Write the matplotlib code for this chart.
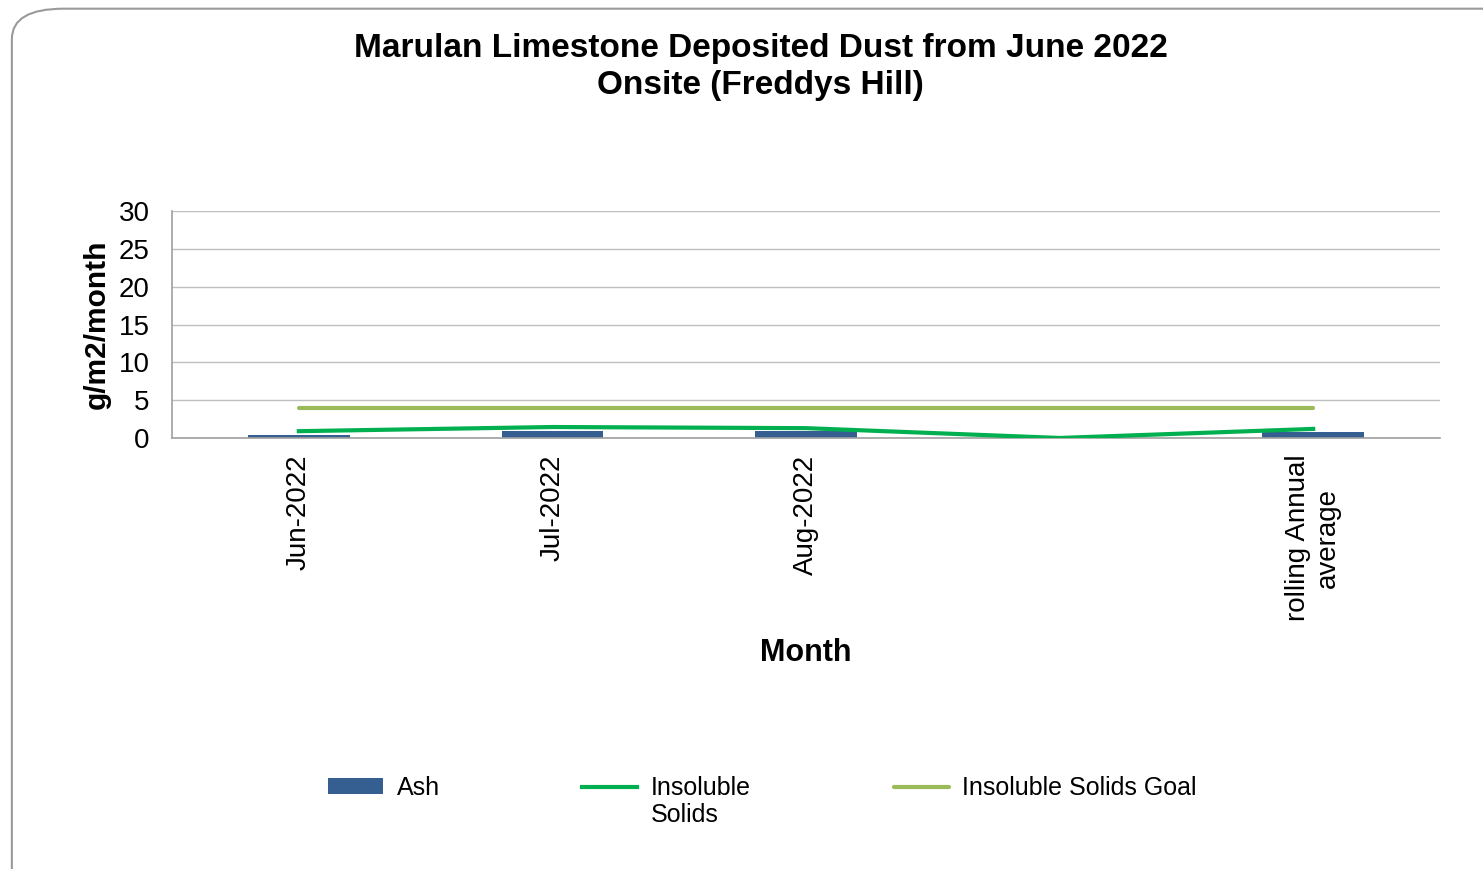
import matplotlib
matplotlib.use("Agg")
import matplotlib.pyplot as plt
import numpy as np
from matplotlib.patches import FancyBboxPatch

plt.rcParams['font.family'] = ['Liberation Sans', 'DejaVu Sans']

# data
months = ["Jun-2022", "Jul-2022", "Aug-2022", "", "rolling Annual\naverage"]
ash = [0.4, 0.95, 0.95, 0.0, 0.75]
insoluble = [0.9, 1.45, 1.3, 0.0, 1.2]
goal = [4, 4, 4, 4, 4]
yticks = [0, 5, 10, 15, 20, 25, 30]

fig = plt.figure(figsize=(14.83, 8.69), dpi=100)

# rounded chart border
border = FancyBboxPatch((0.008 + 0.02, -0.05), 1.2, 1.02,
                        boxstyle="round,pad=0.02,rounding_size=0.035",
                        transform=fig.transFigure, facecolor="none",
                        edgecolor="#9a9a9a", linewidth=1.5, zorder=-1)
fig.patches.append(border)

ax = fig.add_axes([0.116, 0.496, 0.855, 0.261])
x = np.arange(len(months))

h_ash = ax.bar(x, ash, width=0.4, color="#365F91", label="Ash", zorder=2)
h_ins, = ax.plot(x, insoluble, color="#00B050", linewidth=3, label="Insoluble", zorder=3)
h_goal, = ax.plot(x, goal, color="#9BBB59", linewidth=3, label="Insoluble Solids Goal",
                  solid_capstyle="round", zorder=3)

ax.set_xlim(-0.5, len(months) - 0.5)
ax.set_ylim(0, 30)
ax.set_yticks(yticks)
ax.yaxis.grid(True, color="#bfbfbf", linewidth=1)
ax.set_axisbelow(True)
ax.set_xticks(x)
ax.set_xticklabels(months, rotation=90, ha="center", va="top",
                   multialignment="center")
ax.tick_params(axis="both", length=0, labelsize=20)
ax.tick_params(axis="x", pad=12)
ax.tick_params(axis="y", pad=16)
for s in ["top", "right"]:
    ax.spines[s].set_visible(False)
for s in ["left", "bottom"]:
    ax.spines[s].set_color("#a0a0a0")
    ax.spines[s].set_linewidth(1.2)
ax.patch.set_alpha(0)

ax.set_ylabel("g/m2/month", fontsize=21.5, fontweight="bold", labelpad=6)
ax.set_xlabel("Month", fontsize=22, fontweight="bold", labelpad=12)

fig.text(0.513, 0.923, "Marulan Limestone Deposited Dust from June 2022\nOnsite (Freddys Hill)",
         ha="center", va="center", fontsize=24, fontweight="bold", linespacing=1.25)

leg = fig.legend(handles=[h_ash, h_ins, h_goal],
                 labels=["Ash", "Insoluble", "Insoluble Solids Goal"],
                 loc="upper left", bbox_to_anchor=(0.206, 0.133), ncol=3,
                 frameon=False, fontsize=18, handlelength=2.2,
                 handletextpad=0.55, columnspacing=5.7, handleheight=0.6)

fig.canvas.draw()
bb = leg.get_texts()[1].get_window_extent().transformed(fig.transFigure.inverted())
fig.text(bb.x0, bb.y0 - 0.004, "Solids", ha="left", va="top", fontsize=18)

fig.savefig("out.png", dpi=100)
